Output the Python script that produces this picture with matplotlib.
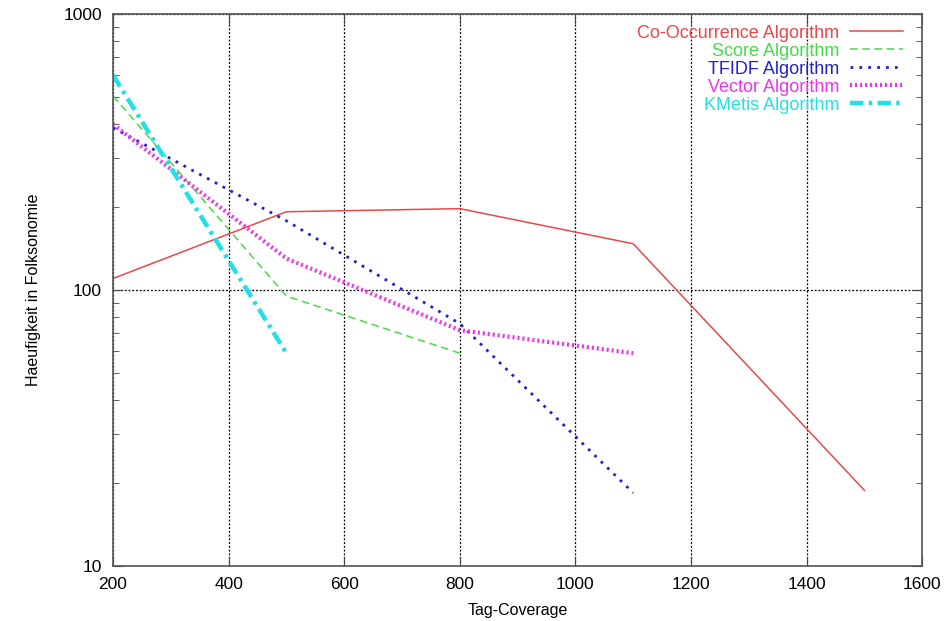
import numpy as np
import matplotlib.pyplot as plt
from matplotlib.ticker import FixedLocator, LogLocator, NullFormatter

plt.rcParams['font.family'] = ['Liberation Sans', 'DejaVu Sans']

# values
cooc_x = [200, 500, 800, 1100, 1500]
cooc_y = [110, 192, 197, 147, 18.8]
score_x = [200, 500, 800]
score_y = [505, 95, 59]
tfidf_x = [200, 500, 800, 1100]
tfidf_y = [387, 178, 75.5, 18.4]
vector_x = [200, 500, 800, 1100]
vector_y = [398, 130, 71.5, 59]
kmetis_x = [200, 500]
kmetis_y = [600, 59]

names = ['Co-Occurrence Algorithm', 'Score Algorithm', 'TFIDF Algorithm',
         'Vector Algorithm', 'KMetis Algorithm']
x_ticks = [200, 400, 600, 800, 1000, 1200, 1400, 1600]
y_ticks = [10, 100, 1000]

fig = plt.figure(figsize=(9.52, 6.21), dpi=100)
ax = fig.add_axes([0.1187, 0.0886, 0.85, 0.889])

l1, = ax.plot(cooc_x, cooc_y, color='#e8484a', lw=1.1, ls='-')
l2, = ax.plot(score_x, score_y, color='#44dd44', lw=1.1, ls=(0, (5, 3)))
l3, = ax.plot(tfidf_x, tfidf_y, color='#2222cc', lw=2.0, ls=(0, (1, 2.2)))
l4, = ax.plot(vector_x, vector_y, color='#ee33ee', lw=3.0, ls=(0, (0.5, 0.7)))
l5, = ax.plot(kmetis_x, kmetis_y, color='#22e0e8', lw=3.2, ls=(0, (3, 1.2, 0.8, 1.2)))
lines = [l1, l2, l3, l4, l5]

ax.set_yscale('log')
ax.set_xlim(200, 1600)
ax.set_ylim(10, 1000)
ax.xaxis.set_major_locator(FixedLocator(x_ticks))
ax.yaxis.set_major_locator(FixedLocator(y_ticks))
ax.yaxis.set_minor_locator(LogLocator(base=10, subs=np.arange(2, 10)))
ax.yaxis.set_minor_formatter(NullFormatter())
ax.set_yticklabels([str(v) for v in y_ticks])
ax.set_xticklabels([str(v) for v in x_ticks])

ax.grid(True, which='major', color='black', ls=(0, (1.5, 1.5)), lw=0.9)
ax.tick_params(which='major', direction='in', length=7, top=True, right=True,
               labelsize=12.5, color='#444444')
ax.tick_params(axis='x', which='major', pad=8)
ax.tick_params(axis='y', which='major', pad=8)
ax.tick_params(which='minor', direction='in', length=4, top=True, right=True,
               color='#444444')
for s in ax.spines.values():
    s.set_color('#555555')
    s.set_linewidth(1.2)

ax.set_xlabel('Tag-Coverage', fontsize=11.5, labelpad=8)
ax.set_ylabel('Haeufigkeit in Folksonomie', fontsize=11.5, labelpad=16)

leg = ax.legend(lines, names, loc='upper right', frameon=False, markerfirst=False,
                fontsize=13, handlelength=2.95, handletextpad=0.6, labelspacing=0.055,
                borderaxespad=0.2, bbox_to_anchor=(0.990, 1.0))
for t, l in zip(leg.get_texts(), lines):
    t.set_color(l.get_color())

fig.savefig('out.png', dpi=100)
